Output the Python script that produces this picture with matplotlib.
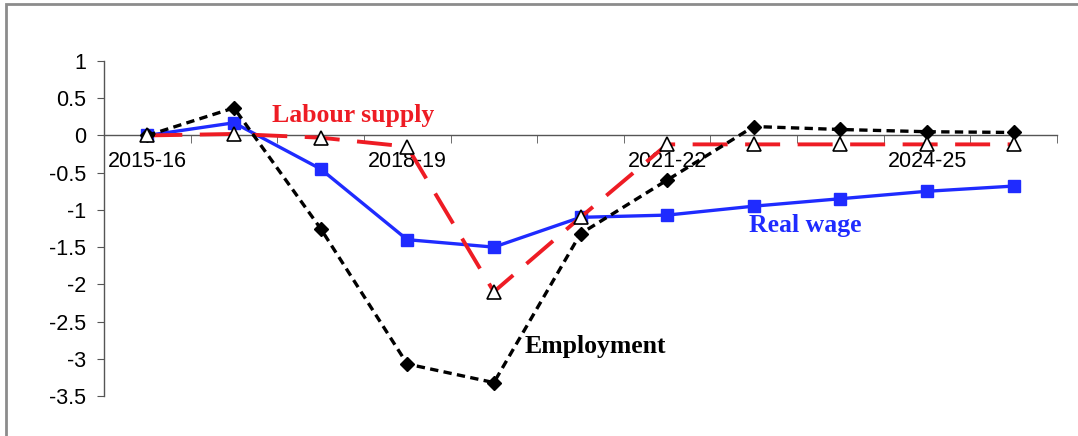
import matplotlib
matplotlib.use("Agg")
import matplotlib.pyplot as plt
from matplotlib.patches import Rectangle
from matplotlib.ticker import FixedLocator, FixedFormatter

# ---------------------------------------------------------------------------
# Data (percentage deviation from baseline)
# ---------------------------------------------------------------------------
years = ["2015-16", "2016-17", "2017-18", "2018-19", "2019-20", "2020-21",
         "2021-22", "2022-23", "2023-24", "2024-25", "2025-26"]
employment = [0.0, 0.37, -1.25, -3.07, -3.32, -1.32, -0.60, 0.12, 0.08, 0.05, 0.04]
real_wage = [0.0, 0.17, -0.45, -1.40, -1.50, -1.10, -1.07, -0.95, -0.85, -0.75, -0.68]
labour_supply = [0.0, 0.02, -0.03, -0.15, -2.10, -1.10, -0.12, -0.12, -0.12, -0.12, -0.12]
shown_labels = ["2015-16", "2018-19", "2021-22", "2024-25"]

RED = "#ee1c24"
BLUE = "#1f2bff"

fig = plt.figure(figsize=(10.78, 4.36), dpi=100)
ax = fig.add_axes([104 / 1078, 1 - 396 / 436, 953 / 1078, 335 / 436])

x = list(range(len(years)))

ax.plot(x, real_wage, color=BLUE, lw=2.4, marker="s", ms=8.5,
        mfc=BLUE, mec=BLUE, zorder=3)
ax.plot(x, labour_supply, color=RED, lw=2.8, dashes=(9, 4.5), marker=None, zorder=3)
ax.plot(x, employment, color="black", lw=2.4, dashes=(2.5, 1.6), marker="D",
        ms=7.5, mfc="black", mec="black", zorder=4)
ax.plot(x, labour_supply, ls="none", marker="^", ms=10.5, mfc="white",
        mec="black", mew=1.2, zorder=5)

# axes styling: x axis sits on zero, ticks at category boundaries
ax.set_xlim(-0.5, len(years) - 0.5)
ax.set_ylim(-3.5, 1)
ax.set_yticks([1, 0.5, 0, -0.5, -1, -1.5, -2, -2.5, -3, -3.5])
ax.set_yticklabels(["1", "0.5", "0", "-0.5", "-1", "-1.5", "-2", "-2.5", "-3", "-3.5"])

ax.spines["bottom"].set_position(("data", 0))
ax.spines["top"].set_visible(False)
ax.spines["right"].set_visible(False)
for side in ("left", "bottom"):
    ax.spines[side].set_color("#555555")
    ax.spines[side].set_linewidth(1.0)

label_pos = [years.index(lbl) for lbl in shown_labels]
ax.xaxis.set_major_locator(FixedLocator(label_pos))
ax.xaxis.set_major_formatter(FixedFormatter(shown_labels))
ax.xaxis.set_minor_locator(FixedLocator([i - 0.5 for i in range(len(years) + 1)]))
ax.tick_params(axis="x", which="major", length=0, pad=11, labelsize=15.5)
ax.tick_params(axis="x", which="minor", length=6, direction="out", color="#555555")
ax.tick_params(axis="y", length=5, direction="out", color="#555555",
               labelsize=15.5, pad=8)
for lbl in ax.get_xticklabels() + ax.get_yticklabels():
    lbl.set_family("Liberation Sans")

# series labels
serif_bold = dict(family="Liberation Serif", fontweight="bold", fontsize=18.5)
ax.text(1.44, 0.27, "Labour supply", color=RED, va="center", ha="left", **serif_bold)
ax.text(6.94, -1.21, "Real wage", color=BLUE, va="center", ha="left", **serif_bold)
ax.text(4.36, -2.84, "Employment", color="black", va="center", ha="left", **serif_bold)

# gray frame around the chart (open to the right and bottom)
fig.patches.append(Rectangle((6 / 1078, -0.1), 1.2, 1.1 - 4 / 436,
                             transform=fig.transFigure, fill=False,
                             edgecolor="#8c8c8c", lw=2.0))

fig.savefig("out.png", dpi=100)
